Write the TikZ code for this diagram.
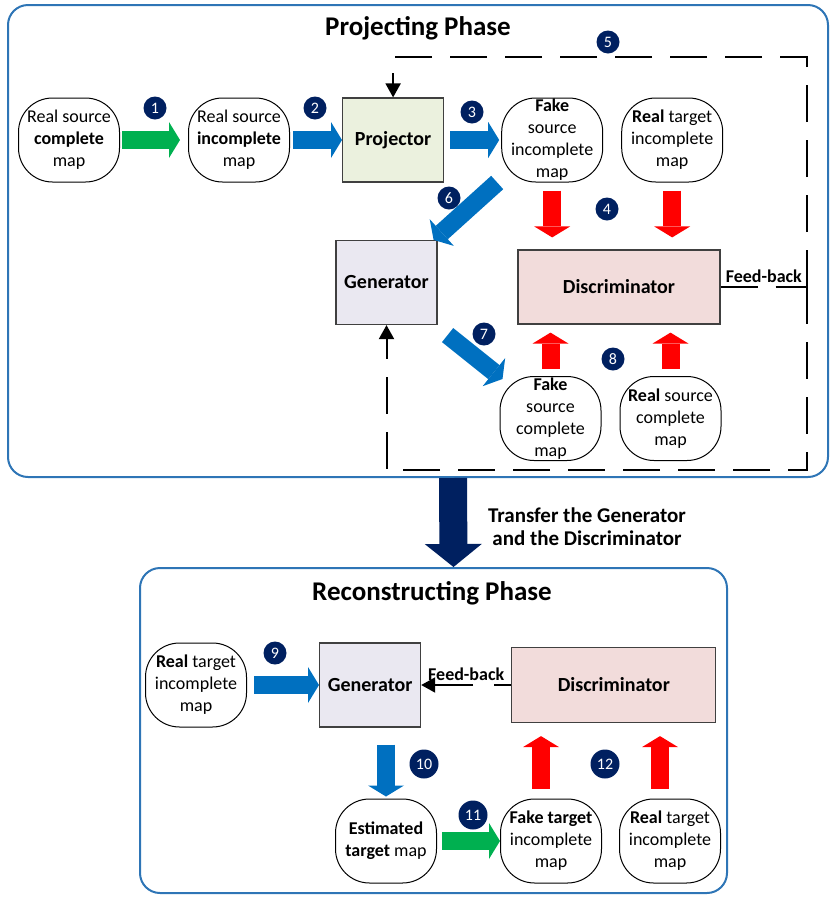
\documentclass[tikz,border=0pt]{standalone}
\usepackage{fontspec}
\setmainfont{Carlito}
\usepackage{tikz}
\usetikzlibrary{arrows.meta, positioning}

\definecolor{phaseblue}{RGB}{46,117,182}
\definecolor{arrowblue}{RGB}{0,112,192}
\definecolor{arrowgreen}{RGB}{0,176,80}
\definecolor{navy}{RGB}{0,32,96}
\definecolor{projfill}{RGB}{235,241,222}
\definecolor{genfill}{RGB}{234,232,241}
\definecolor{discfill}{RGB}{242,220,219}

\begin{document}
\begin{tikzpicture}[
    x=1pt, y=-1pt,
    mapnode/.style={draw, rounded corners=34pt, line width=1pt, minimum width=101pt, minimum height=84pt, inner sep=0pt, align=center, font=\fontsize{18}{22}\selectfont},
    netbox/.style={draw=black!75, line width=1.2pt, minimum width=101pt, minimum height=84pt, font=\bfseries\fontsize{20}{24}\selectfont},
    phase/.style={draw=phaseblue, line width=2pt, rounded corners=20pt},
    phasetitle/.style={font=\bfseries\fontsize{27}{32}\selectfont},
    badge/.style={circle, fill=navy, text=white, inner sep=0pt, minimum size=23pt, font=\fontsize{16}{16}\selectfont},
    bigbadge/.style={badge, minimum size=29pt, font=\fontsize{16}{16}\selectfont},
    bluearrow/.style={arrowblue, line width=18pt, -{Triangle[length=11pt, width=36pt, line width=0pt]}},
    greenarrow/.style={bluearrow, arrowgreen},
    redarrow/.style={bluearrow, red},
    navyarrow/.style={navy, line width=28pt, -{Triangle[length=23pt, width=57pt, line width=0pt]}},
    backline/.style={line width=2pt, dash pattern=on 37pt off 18pt},
    fbtip/.style={-{Triangle[length=14pt, width=15pt]}},
    fbtext/.style={font=\bfseries\fontsize{18}{22}\selectfont}
]
\useasboundingbox (0,0) rectangle (831,903);

% phase frames
\node[phase, minimum width=820pt, minimum height=472pt] (projphase) at (418,241) {};
\node[phase, minimum width=587pt, minimum height=325pt] (reconphase) at (433.5,730.5) {};
\node[phasetitle] (projtitle) at (418,28) {Projecting Phase};
\node[phasetitle] (recontitle) at (432,593) {Reconstructing Phase};

% projecting phase
\node[mapnode] (rsc) at (69,140) {Real source\\\textbf{complete}\\map};
\node[mapnode, right=68pt of rsc] (rsi) {Real source\\\textbf{incomplete}\\map};
\node[netbox, fill=projfill, right=52pt of rsi] (proj) {Projector};
\node[mapnode, right=57pt of proj] (fsi) {\textbf{Fake}\\source\\incomplete\\map};
\node[mapnode, right=18pt of fsi] (rti) {\textbf{Real} target\\incomplete\\map};
\node[netbox, fill=genfill] (gen) at (386.5,282.5) {Generator};
\node[netbox, fill=discfill, minimum width=202pt, minimum height=74pt] (disc) at (619,287) {Discriminator};
\node[mapnode] (fsc) at (550.5,418.5) {\textbf{Fake}\\source\\complete\\map};
\node[mapnode, right=18pt of fsc] (rsc2) {\textbf{Real} source\\complete\\map};

\draw[greenarrow] ([xshift=2pt]rsc.east) -- ([xshift=-8pt]rsi.west);
\draw[bluearrow] ([xshift=3pt]rsi.east) -- (proj.west);
\draw[bluearrow] ([xshift=6pt]proj.east) -- ([xshift=-2pt]fsi.west);
\draw[redarrow, shorten <=8pt, shorten >=12pt] (fsi.south) -- (fsi.south |- disc.north);
\draw[redarrow, shorten <=8pt, shorten >=12pt] (rti.south) -- (rti.south |- disc.north);
\draw[bluearrow] ([xshift=-4pt]fsi.south west) -- ([xshift=-4pt]gen.north east);
\draw[bluearrow] ([shift={(10pt,-10pt)}]gen.south east) -- ([shift={(3pt,-3pt)}]fsc.north west);
\draw[redarrow, shorten <=7pt, shorten >=8pt] (fsc.north) -- (fsc.north |- disc.south);
\draw[redarrow, shorten <=7pt, shorten >=8pt] (rsc2.north) -- (rsc2.north |- disc.south);

\coordinate (fbend) at (807,287);
\draw[backline] (disc.east) -- node[above, fbtext] {Feed-back} (fbend);
\draw[backline, fbtip] (fbend) -- (807,57) -| (proj.north);
\draw[backline, fbtip] (fbend) -- (807,470) -| (gen.south);

\node[badge] (b1) at (155,108) {1};
\node[badge] (b2) at (315,108) {2};
\node[badge] (b3) at (472,112) {3};
\node[badge] (b4) at (607,209) {4};
\node[badge] (b5) at (608,42) {5};
\node[badge] (b6) at (449,198) {6};
\node[badge] (b7) at (484,334) {7};
\node[badge] (b8) at (613,359) {8};

% transfer
\draw[navyarrow] ([xshift=35pt]projphase.south) -- ([xshift=20pt]reconphase.north);
\node[phasetitle, font=\bfseries\fontsize{21}{23}\selectfont, align=center] (transfer) at (587,527) {Transfer the Generator\\and the Discriminator};

% reconstructing phase
\node[mapnode] (rti2) at (196,685) {\textbf{Real} target\\incomplete\\map};
\node[netbox, fill=genfill, right=72pt of rti2] (gen2) {Generator};
\node[netbox, fill=discfill, minimum width=204pt, minimum height=75pt, right=90pt of gen2] (disc2) {Discriminator};
\node[mapnode] (ets) at (386,841) {\textbf{Estimated}\\\textbf{target} map};
\node[mapnode, right=63pt of ets] (fti) {\textbf{Fake target}\\incomplete\\map};
\node[mapnode, right=17pt of fti] (rti3) {\textbf{Real} target\\incomplete\\map};

\draw[bluearrow] ([xshift=7pt]rti2.east) -- (gen2.west);
\draw[backline, dash pattern=on 17pt off 21pt on 100pt off 10pt, fbtip] (disc2.west) -- node[above, fbtext] {Feed-back} (gen2.east);
\draw[bluearrow, shorten <=17pt, shorten >=2pt] (gen2.south -| ets.north) -- (ets.north);
\draw[greenarrow] ([xshift=5pt]ets.east) -- (fti.west);
\draw[redarrow, shorten <=10pt, shorten >=13pt] ([xshift=-10pt]fti.north) -- ([xshift=-10pt]fti.north |- disc2.south);
\draw[redarrow, shorten <=10pt, shorten >=13pt] ([xshift=-10pt]rti3.north) -- ([xshift=-10pt]rti3.north |- disc2.south);

\node[badge] (b9) at (275,653) {9};
\node[bigbadge] (b10) at (424,764) {10};
\node[bigbadge] (b11) at (473,815) {11};
\node[bigbadge] (b12) at (605,764) {12};
\end{tikzpicture}
\end{document}
